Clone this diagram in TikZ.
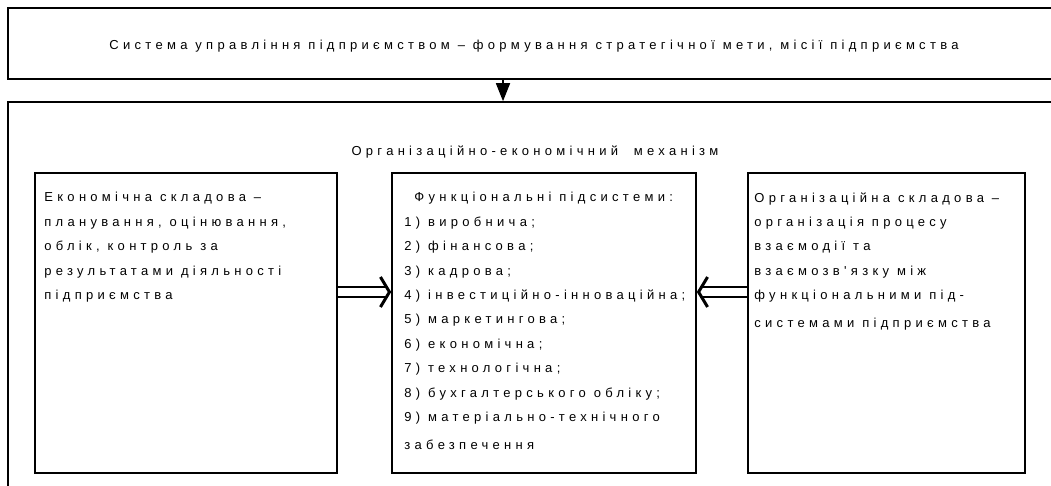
\documentclass[tikz,border=0pt]{standalone}
\usepackage{fontspec}
\newfontfamily\spaced[LetterSpace=33, Ligatures=TeXOff]{Liberation Sans}
\usetikzlibrary{arrows.meta}
\begin{document}
\begin{tikzpicture}[x=1pt,y=-1pt,
    box/.style={draw, line width=1.6pt, inner sep=0pt},
    txt/.style={font=\spaced\fontsize{13}{24.4}\selectfont},
    lines/.style={txt, align=left, anchor=north west, inner sep=0pt},
    link/.style={double, double distance=8pt, line width=1.8pt,
        -{Straight Barb[length=9pt,width=30pt,line width=3pt]}}]
    \useasboundingbox (0,0) rectangle (1051,486);
    \clip (0,0) rectangle (1051,486);
    % management system
    \node [box, line width=2.2pt, minimum width=1054pt, minimum height=71pt] (goal) at (535,43.5) {};
    \node [txt, inner sep=0pt] (goaltitle) at (534,46)
        {Система управління підприємством – формування стратегічної мети, місії підприємства};
    % mechanism frame
    \node [box, minimum width=1054pt, minimum height=418pt] (frame) at (535,311) {};
    \node [txt, inner sep=0pt] (frametitle) at (535,152) {Організаційно-економічний\ \ механізм};
    \coordinate (drop) at (503,0);
    \draw [-{Triangle[width=14pt,length=18pt]}, line width=1.6pt] (goal.south -| drop) -- (frame.north -| drop);
    % three components
    \node [box, minimum width=302pt, minimum height=300pt] (econ) at (186,323) {};
    \node [box, minimum width=304pt, minimum height=300pt] (func) at (544,323) {};
    \node [box, minimum width=277pt, minimum height=300pt] (org) at (886.5,323) {};
    \node [lines] (econtext) at ([xshift=10pt,yshift=-20pt]econ.north west)
        {Економічна складова –\\
         планування, оцінювання,\\
         облік, контроль за\\
         результатами діяльності\\
         підприємства};
    \node [lines] (functext) at ([xshift=13pt,yshift=-20pt]func.north west)
        {\hspace*{10pt}Функціональні підсистеми:\\
         1) виробнича;\\
         2) фінансова;\\
         3) кадрова;\\
         4) інвестиційно-інноваційна;\\
         5) маркетингова;\\
         6) економічна;\\
         7) технологічна;\\
         8) бухгалтерського обліку;\\
         9) матеріально-технічного\\[3.6pt]
         забезпечення};
    \node [lines] (orgtext) at ([xshift=7pt,yshift=-20pt]org.north west)
        {Організаційна складова –\\
         організація процесу\\
         взаємодії та\\
         взаємозв'язку між\\
         функціональними під-\\[3.6pt]
         системами підприємства};
    % links into the subsystems
    \draw [link] ([yshift=31pt]econ.east) -- ([yshift=31pt]func.west);
    \draw [link] ([yshift=31pt]org.west) -- ([yshift=31pt]func.east);
\end{tikzpicture}
\end{document}
